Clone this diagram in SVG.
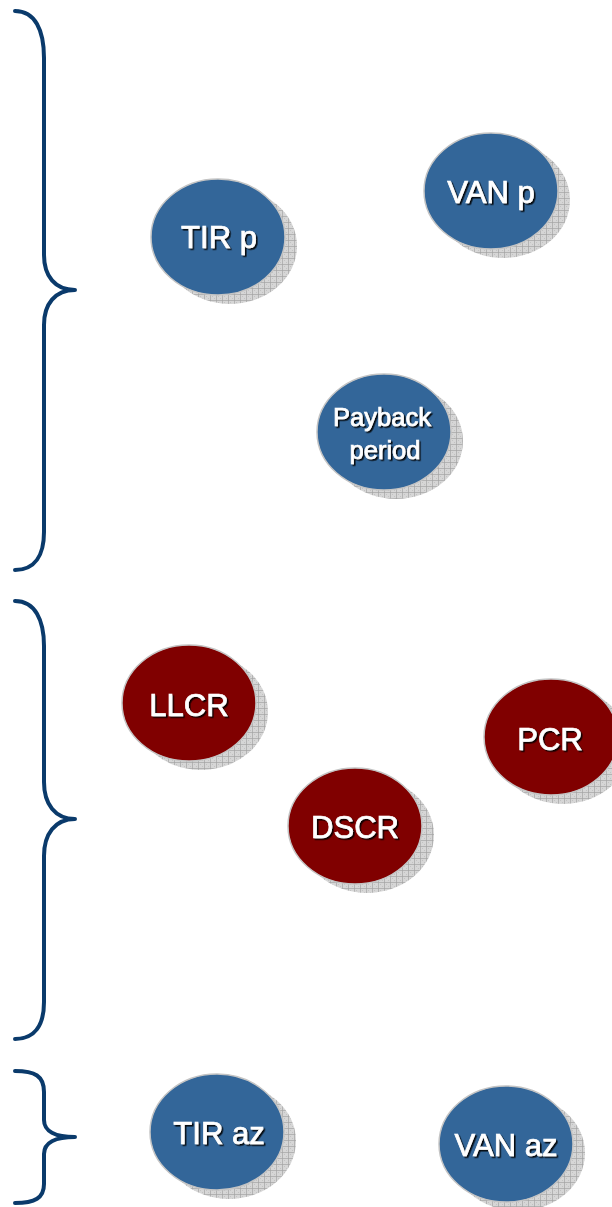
<svg xmlns="http://www.w3.org/2000/svg" width="612" height="1207" viewBox="0 0 612 1207">
  <style>
    .brace { fill: none; stroke: #0a3a6b; stroke-width: 4; stroke-linecap: round; stroke-linejoin: round; }
    .shadow { fill: url(#grid); }
    .blue { fill: #336699; stroke: #c4c4c4; stroke-width: 1.5; }
    .red { fill: #800000; stroke: #c4c4c4; stroke-width: 1.5; }
    .label { font-family: "Liberation Sans", Arial, sans-serif; font-weight: 400; font-size: 31px; fill: #ffffff; stroke: #ffffff; stroke-width: 0.7; text-anchor: middle; filter: url(#txtshadow); }
    .small { font-size: 25.5px; }
  </style>
  <defs>
    <pattern id="grid" width="6" height="6" patternUnits="userSpaceOnUse">
      <rect width="6" height="6" fill="#d6d6d6"/>
      <rect x="2" y="2" width="1" height="1" fill="#c2c2c2"/>
      <rect x="4" y="4" width="1" height="1" fill="#c2c2c2"/>
      <path d="M0 0.5H6M0.5 0V6" stroke="#a4a4a4" stroke-width="0.7"/>
    </pattern>
    <filter id="txtshadow" x="-20%" y="-20%" width="140%" height="140%">
      <feDropShadow dx="1.6" dy="1.6" stdDeviation="0.3" flood-color="#000000" flood-opacity="0.9"/>
    </filter>
  </defs>

  <g id="connectors">
    <path class="brace" d="M15,11 C35,11 44,30 44,58 L44,255 C44,276 55,290 75,290 C55,290 44,304 44,325 L44,532 C44,555 35,570 15,570"/>
    <path class="brace" d="M15,601 C35,601 44,620 44,646 L44,782 C44,804 55,819 75,819 C55,819 44,834 44,856 L44,1002 C44,1025 35,1039 15,1039"/>
    <path class="brace" d="M15,1071 C35,1071 44,1076 44,1092 L44,1120 C44,1131 55,1137 75,1137 C55,1137 44,1143 44,1154 L44,1184 C44,1198 35,1203 15,1203"/>
  </g>

  <g id="node-tir-p">
    <ellipse class="shadow" cx="230" cy="246" rx="67" ry="58"/>
    <ellipse class="blue" cx="218" cy="237" rx="67" ry="58"/>
    <text class="label" x="219" y="248">TIR p</text>
  </g>

  <g id="node-van-p">
    <ellipse class="shadow" cx="503" cy="200" rx="67" ry="58"/>
    <ellipse class="blue" cx="491" cy="191" rx="67" ry="58"/>
    <text class="label" x="491" y="203">VAN p</text>
  </g>

  <g id="node-payback">
    <ellipse class="shadow" cx="396" cy="441" rx="67" ry="58"/>
    <ellipse class="blue" cx="384" cy="432" rx="67" ry="58"/>
    <text class="label small" x="382" y="426">Payback</text>
    <text class="label small" x="385" y="459">period</text>
  </g>

  <g id="node-llcr">
    <ellipse class="shadow" cx="201" cy="712" rx="67" ry="58"/>
    <ellipse class="red" cx="189" cy="703" rx="67" ry="58"/>
    <text class="label" x="189" y="716">LLCR</text>
  </g>

  <g id="node-pcr">
    <ellipse class="shadow" cx="563" cy="746" rx="67" ry="58"/>
    <ellipse class="red" cx="551" cy="737" rx="67" ry="58"/>
    <text class="label" x="550" y="750">PCR</text>
  </g>

  <g id="node-dscr">
    <ellipse class="shadow" cx="367" cy="835" rx="67" ry="58"/>
    <ellipse class="red" cx="355" cy="826" rx="67" ry="58"/>
    <text class="label" x="355" y="838">DSCR</text>
  </g>

  <g id="node-tir-az">
    <ellipse class="shadow" cx="229" cy="1141" rx="67" ry="58"/>
    <ellipse class="blue" cx="217" cy="1132" rx="67" ry="58"/>
    <text class="label" x="219" y="1144">TIR az</text>
  </g>

  <g id="node-van-az">
    <ellipse class="shadow" cx="518" cy="1153" rx="67" ry="58"/>
    <ellipse class="blue" cx="506" cy="1144" rx="67" ry="58"/>
    <text class="label" x="506" y="1156">VAN az</text>
  </g>
</svg>
